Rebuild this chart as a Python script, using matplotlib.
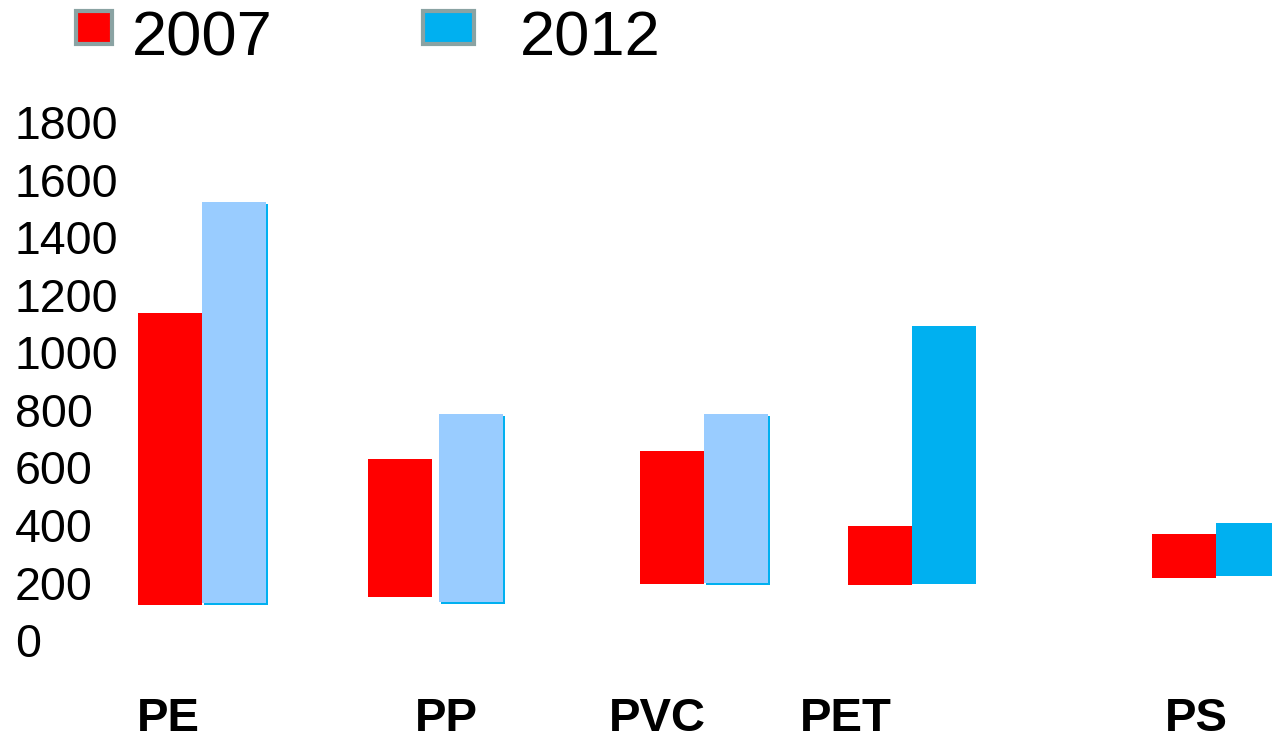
import matplotlib.pyplot as plt
from matplotlib.patches import Rectangle
from matplotlib import transforms

plt.rcParams['font.family'] = ['Liberation Sans', 'DejaVu Sans']

categories = ['PE', 'PP', 'PVC', 'PET', 'PS']
years = ['2007', '2012']

# floating bars: bottom and top value of each bar
bottom_2007 = [122, 150, 195, 191, 216]
top_2007 = [1137, 630, 657, 397, 369]
bottom_2012 = [129, 132, 198, 195, 223]
top_2012 = [1523, 786, 786, 1092, 407]

# horizontal layout (axis units = pixels of the 1272 px wide picture)
x_2007 = [138, 368, 640, 848, 1152]
x_2012 = [202, 439, 704, 912, 1216]
label_x = [168, 446, 657, 846, 1196]
bar_w = 64

yticks = [0, 200, 400, 600, 800, 1000, 1200, 1400, 1600, 1800]

red = '#ff0000'
light_blue = '#99ccff'
blue = '#00b0f0'
legend_edge = '#8aa3a3'
fill_2012 = [light_blue, light_blue, light_blue, blue, blue]

W, H = 1272, 742
fig = plt.figure(figsize=(W / 100, H / 100), dpi=100)
y0_px, y1_px = 640, 122.5
ax = fig.add_axes([0, (H - y0_px) / H, 1, (y0_px - y1_px) / H])
ax.set_xlim(0, W)
ax.set_ylim(0, 1800)
for s in ax.spines.values():
    s.set_visible(False)
ax.set_xticks([])
ax.set_yticks(yticks)
ax.set_yticklabels([str(t) for t in yticks], fontsize=33.5, ha='left')
ax.tick_params(axis='y', length=0, pad=-15 * 72 / 100)

h07 = [t - b for t, b in zip(top_2007, bottom_2007)]
h12 = [t - b for t, b in zip(top_2012, bottom_2012)]
ax.bar(x_2007, h07, bottom=bottom_2007, width=bar_w, align='edge', color=red, clip_on=False)
# thin blue "shadow" behind the light blue bars
for x, b, h, c in zip(x_2012, bottom_2012, h12, fill_2012):
    if c == light_blue:
        ax.bar(x + 2, h, bottom=b - 8, width=bar_w, align='edge', color=blue)
ax.bar(x_2012, h12, bottom=bottom_2012, width=bar_w, align='edge', color=fill_2012, clip_on=False)

trans = transforms.blended_transform_factory(ax.transData, fig.transFigure)
for lx, name in zip(label_x, categories):
    ax.text(lx, 11 / H, name, transform=trans, ha='center', va='baseline',
            fontsize=34, fontweight='bold', clip_on=False)

# legend drawn by hand (pixel layout of the original)
legend = [(76, 36, red, 132, years[0]), (423, 51, blue, 520, years[1])]
for px, pw, col, tx, txt in legend:
    fig.add_artist(Rectangle((px / W, (H - 44) / H), pw / W, 33 / H,
                             transform=fig.transFigure, facecolor=col,
                             edgecolor=legend_edge, lw=3))
    fig.text(tx / W, (H - 55) / H, txt, fontsize=45.5, ha='left', va='baseline')

fig.savefig('out.png', dpi=100)
